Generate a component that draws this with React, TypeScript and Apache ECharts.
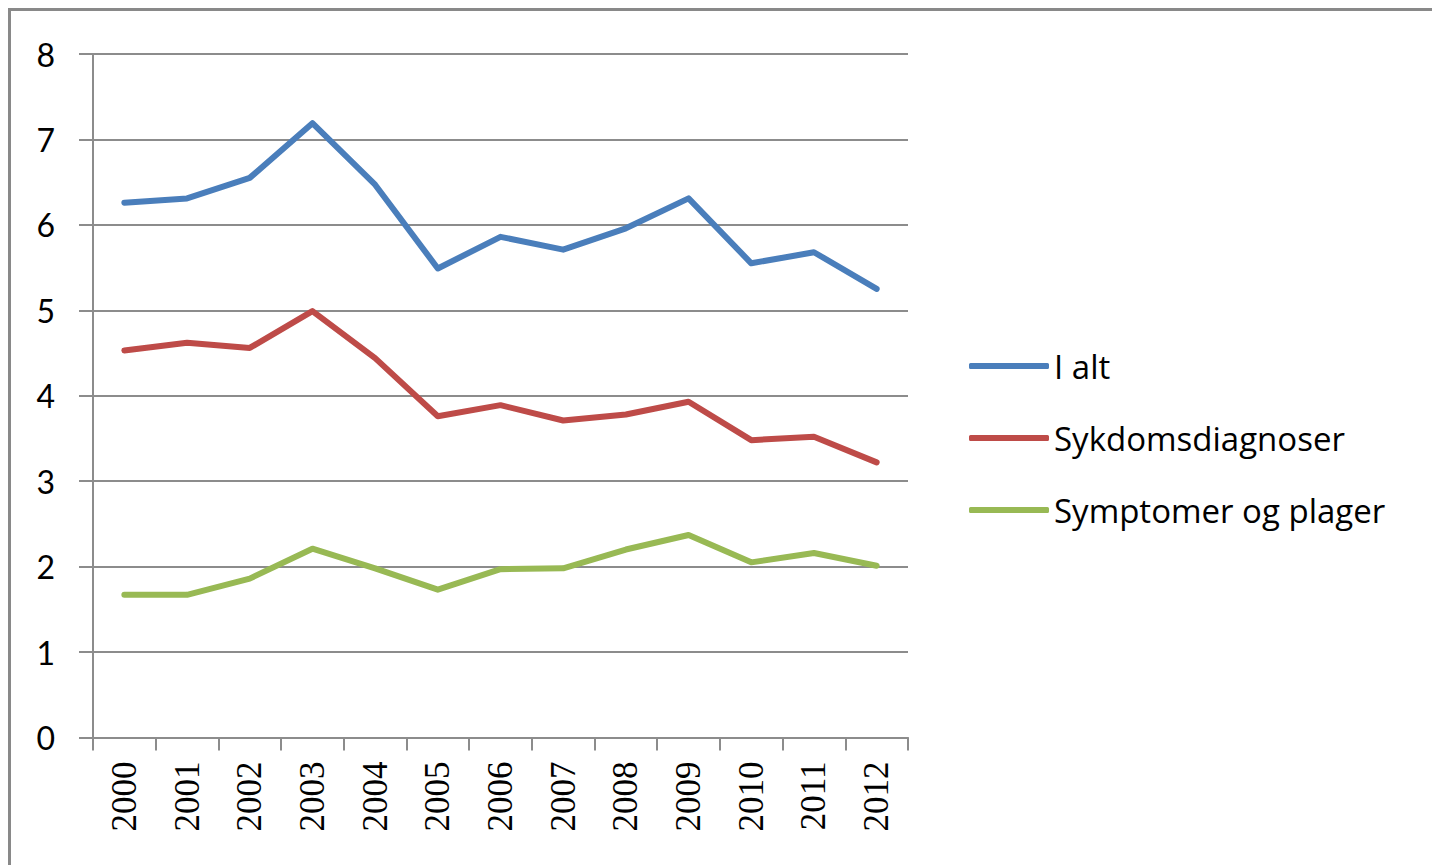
import React, { useEffect, useRef } from "react";
import * as echarts from "echarts";

const years = ["2000", "2001", "2002", "2003", "2004", "2005", "2006", "2007", "2008", "2009", "2010", "2011", "2012"];
const iAlt = [6.26, 6.31, 6.55, 7.19, 6.47, 5.49, 5.86, 5.71, 5.96, 6.31, 5.55, 5.68, 5.25];
const sykdomsdiagnoser = [4.53, 4.62, 4.56, 4.99, 4.44, 3.76, 3.89, 3.71, 3.78, 3.93, 3.48, 3.52, 3.22];
const symptomer = [1.67, 1.67, 1.86, 2.21, 1.98, 1.73, 1.97, 1.98, 2.2, 2.37, 2.05, 2.16, 2.01];
const seriesNames = ["I alt", "Sykdomsdiagnoser", "Symptomer og plager"];
const colors = ["#4A7EBB", "#BE4B48", "#98B954"];

export default function App() {
  const ref = useRef<HTMLDivElement>(null);
  useEffect(() => {
    if (!ref.current) return;
    const chart = echarts.init(ref.current, null, { renderer: "svg" });
    const gridColor = "#8C8C8C";
    const mk = (name: string, data: number[], color: string) => ({
      name,
      type: "line",
      data,
      symbol: "none",
      showSymbol: false,
      lineStyle: { color, width: 6, cap: "round", join: "round" },
      itemStyle: { color },
    });
    chart.setOption({
      animation: false,
      backgroundColor: "#ffffff",
      grid: { left: 93, right: 524, top: 54, bottom: 127.5 },
      graphic: [
        {
          type: "rect",
          shape: { x: 9.5, y: 9.5, width: 1600, height: 1000 },
          style: { fill: "none", stroke: "#898989", lineWidth: 3 },
          silent: true,
        },
      ],
      legend: {
        orient: "vertical",
        left: 964,
        top: 341,
        itemWidth: 80,
        itemHeight: 6,
        itemGap: 32,
        icon: "roundRect",
        data: seriesNames,
        textStyle: { fontFamily: "Open Sans", fontSize: 33, color: "#000", lineHeight: 40 },
      },
      xAxis: {
        type: "category",
        data: years,
        boundaryGap: true,
        axisLine: { show: true, lineStyle: { color: gridColor, width: 2 } },
        axisTick: { show: true, length: 13, lineStyle: { color: gridColor, width: 2 } },
        axisLabel: {
          rotate: 90,
          margin: 24,
          fontFamily: "'Liberation Serif', serif",
          fontSize: 35,
          color: "#000",
          interval: 0,
        },
        splitLine: { show: false },
      },
      yAxis: {
        type: "value",
        min: 0,
        max: 8,
        interval: 1,
        axisLine: { show: true, lineStyle: { color: gridColor, width: 2 } },
        axisTick: { show: true, length: 14, lineStyle: { color: gridColor, width: 2 } },
        axisLabel: { margin: 38, fontFamily: "Lato", fontSize: 32, color: "#000" },
        splitLine: { show: true, lineStyle: { color: gridColor, width: 2 } },
      },
      series: [
        mk(seriesNames[0], iAlt, colors[0]),
        mk(seriesNames[1], sykdomsdiagnoser, colors[1]),
        mk(seriesNames[2], symptomer, colors[2]),
      ],
    });
    return () => chart.dispose();
  }, []);
  return (
    <div
      ref={ref}
      style={{ position: "absolute", left: 0, top: 0, width: 1432, height: 865, background: "#fff" }}
    />
  );
}
